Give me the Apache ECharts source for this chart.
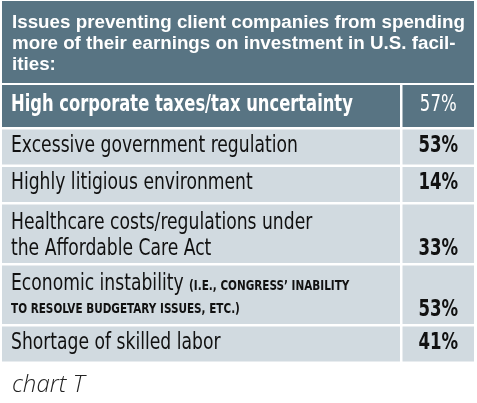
<!DOCTYPE html>
<html>
<head>
<meta charset="utf-8">
<script src="https://cdn.jsdelivr.net/npm/echarts@6/dist/echarts.min.js"></script>
<style>
  html, body { margin: 0; padding: 0; background: #ffffff; }
  #chart-t { width: 477px; height: 403px; }
</style>
</head>
<body>
<div id="chart-t"></div>
<script>
// 表格里的数据
var titleLines = [
    'Issues preventing client companies from spending',
    'more of their earnings on investment in U.S. facil-',
    'ities:'
];
var categories = [
    'High corporate taxes/tax uncertainty',
    'Excessive government regulation',
    'Highly litigious environment',
    'Healthcare costs/regulations under\nthe Affordable Care Act',
    'Economic instability',
    'Shortage of skilled labor'
];
// 小号大写的补充说明
var notes = ['', '', '', '', '(I.E., CONGRESS\u2019 INABILITY\nTO RESOLVE BUDGETARY ISSUES, ETC.)', ''];
var shares = [57, 53, 14, 33, 53, 41];
var footnote = 'chart T';

var DARK = '#587483';
var LIGHT = '#d1dae0';
var COND = '"DejaVu Sans Condensed", "DejaVu Sans", sans-serif';
var TABLE_W = 472;      // 表格宽度
var SPLIT_X = 398;      // 左列右边
var GAP = 2.5;          // 白色间隔
var LINE_H = 26;

/**
 * 这一行有几行文字
 */
function lineCount(i) {
    if (notes[i]) {
        return notes[i].split('\n').length;
    }
    return categories[i].split('\n').length;
}

/**
 * 行高：表头更高，两行文字的行更高
 */
function rowHeight(i) {
    if (i === 0) {
        return 42;
    }
    return lineCount(i) > 1 ? 58.5 : 35;
}

// 每一行的起止位置
var rows = [];
var pos = 0;
for (var i = 0; i < categories.length; i++) {
    var h = rowHeight(i);
    rows.push([pos, pos + h, shares[i], i]);
    pos += h + GAP;
}
var total = pos - GAP;

/**
 * 左列文字
 */
function labelText(i) {
    if (!notes[i]) {
        return '{a|' + categories[i].split('\n').join('}\n{a|') + '}';
    }
    var noteLines = notes[i].split('\n');
    var out = '{a|' + categories[i] + ' }{b|' + noteLines[0] + '}';
    for (var j = 1; j < noteLines.length; j++) {
        out += '\n{c|' + noteLines[j] + '}';
    }
    return out;
}

function renderRow(params, api) {
    var idx = api.value(3);
    var head = idx === 0;
    var p0 = api.coord([0, api.value(0)]);
    var p1 = api.coord([TABLE_W, api.value(1)]);
    var pSplit = api.coord([SPLIT_X, 0])[0];
    var pVal = api.coord([SPLIT_X + GAP, 0])[0];
    var h = p1[1] - p0[1];
    var mid = p0[1] + h / 2;
    var multi = lineCount(idx) > 1;
    var textY = multi ? mid + 2 : mid - 1;
    var textColor = head ? '#ffffff' : '#111111';
    var fill = head ? DARK : LIGHT;
    var small = {
        fontFamily: COND,
        fontSize: 14,
        fontWeight: 'bold',
        fill: textColor
    };

    return {
        type: 'group',
        children: [
            {
                type: 'rect',
                shape: { x: p0[0], y: p0[1], width: pSplit - p0[0], height: h },
                style: { fill: fill }
            },
            {
                type: 'rect',
                shape: { x: pVal, y: p0[1], width: p1[0] - pVal, height: h },
                style: { fill: fill }
            },
            {
                type: 'text',
                x: p0[0] + 9,
                y: textY,
                scaleX: head ? 0.79 : 0.83,
                style: {
                    text: labelText(idx),
                    textAlign: 'left',
                    textVerticalAlign: 'middle',
                    rich: {
                        a: {
                            fontFamily: COND,
                            fontSize: 23,
                            fontWeight: head ? 'bold' : 'normal',
                            lineHeight: LINE_H,
                            fill: textColor
                        },
                        b: echarts.util.extend({
                            lineHeight: 14,
                            verticalAlign: 'bottom',
                            padding: [0, 0, 3, 0]
                        }, small),
                        c: echarts.util.extend({
                            lineHeight: LINE_H
                        }, small)
                    }
                }
            },
            {
                type: 'text',
                x: (pVal + p1[0]) / 2,
                y: multi ? textY + LINE_H / 2 : textY,
                scaleX: 0.8,
                style: {
                    text: api.value(2) + '%',
                    textAlign: 'center',
                    textVerticalAlign: 'middle',
                    fontFamily: COND,
                    fontSize: 23,
                    fontWeight: head ? 'normal' : 'bold',
                    fill: textColor
                }
            }
        ]
    };
}

var myChart = echarts.init(document.getElementById('chart-t'));

var option = {
    animation: false,
    backgroundColor: '#ffffff',
    title: {
        text: titleLines.join('\n'),
        left: 12,
        top: 12,
        padding: 0,
        textStyle: {
            color: '#ffffff',
            fontFamily: '"Liberation Sans", Arial, sans-serif',
            fontWeight: 'bold',
            fontSize: 18.8,
            lineHeight: 21
        }
    },
    graphic: [
        {
            type: 'rect',
            left: 2,
            top: 1,
            z: -1,
            shape: { width: TABLE_W, height: 82 },
            style: { fill: DARK }
        },
        {
            type: 'text',
            left: 12,
            top: 373,
            style: {
                text: footnote,
                fontFamily: '"Open Sans", sans-serif',
                fontStyle: 'italic',
                fontWeight: 300,
                fontSize: 24,
                fill: '#222222'
            }
        }
    ],
    grid: { left: 2, top: 85, width: TABLE_W, height: total },
    xAxis: { type: 'value', min: 0, max: TABLE_W, show: false },
    yAxis: { type: 'value', min: 0, max: total, inverse: true, show: false },
    series: [
        {
            type: 'custom',
            renderItem: renderRow,
            data: rows
        }
    ]
};

myChart.setOption(option);
</script>
</body>
</html>
